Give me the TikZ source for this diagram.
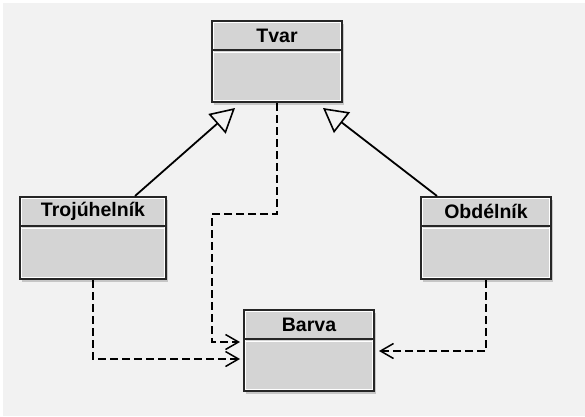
\documentclass[tikz,border=0pt]{standalone}
\usepackage{fontspec}
\setmainfont{Liberation Sans}
\usetikzlibrary{arrows.meta,calc,shadows}
\definecolor{bgc}{RGB}{242,242,242}
\definecolor{boxfill}{RGB}{212,212,212}
\definecolor{edgec}{RGB}{38,38,38}
\tikzset{
  umlbox/.style={draw=edgec, line width=2pt, fill=boxfill, inner sep=0pt,
    drop shadow={shadow xshift=2pt, shadow yshift=-3pt, fill=black, opacity=0.18}},
  umltitle/.style={font=\fontsize{19.5}{22}\selectfont\bfseries, text=black, inner sep=0pt},
  gen/.style={draw=black, line width=1.8pt, -{Triangle[open, length=24pt, width=26pt, line width=1.6pt]}},
  dep/.style={draw=black, line width=1.6pt, dash pattern=on 8pt off 4pt,
    -{Straight Barb[length=13pt, width=15pt, line width=1.5pt]}},
}
\begin{document}
\begin{tikzpicture}[x=1pt, y=1pt]
\useasboundingbox (0,0) rectangle (585,-416);
\fill[white] (0,0) rectangle (585,-416);
\fill[bgc] (3,-3) rectangle (585,-416);
% boxes
\node[umlbox, minimum width=130pt, minimum height=81pt] (tvar) at (277,-61.5) {};
\node[umlbox, minimum width=146pt, minimum height=82pt] (troj) at (93,-238) {};
\node[umlbox, minimum width=130pt, minimum height=82pt] (obd) at (486,-238) {};
\node[umlbox, minimum width=130pt, minimum height=81pt] (barva) at (309,-350.5) {};
\foreach \n in {tvar,troj,obd,barva} {
  \draw[white, line width=1pt] ($(\n.north west)+(2.8,-2.8)$) rectangle ($(\n.south east)+(-2.8,2.8)$);
  \draw[edgec, line width=2pt] ($(\n.north west)+(0,-30)$) -- ($(\n.north east)+(0,-30)$);
  \draw[white, line width=1pt] ($(\n.north west)+(2.8,-32.8)$) -- ($(\n.north east)+(-2.8,-32.8)$);
}
\node[umltitle] (tvar-t) at ($(tvar.north)+(0,-15.5)$) {Tvar};
\node[umltitle] (troj-t) at ($(troj.north)+(0,-15.5)$) {Trojúhelník};
\node[umltitle] (obd-t) at ($(obd.north)+(0,-15.5)$) {Obdélník};
\node[umltitle] (barva-t) at ($(barva.north)+(0,-15.5)$) {Barva};
% generalizations
\draw[gen] ($(troj.north west)+(116,0)$) -- ($(tvar.south west)+(24,-5)$);
\draw[gen] ($(obd.north west)+(17,0)$) -- ($(tvar.south west)+(112,-5)$);
% dependencies
\draw[dep] (tvar.south) -- ++(0,-111) -| ($(barva.west)+(-31,8.5)$) -- ($(barva.west)+(-3,8.5)$);
\draw[dep] (troj.south) |- ($(barva.west)+(-3,-8.5)$);
\draw[dep] (obd.south) |- ($(barva.east)+(4,-0.5)$);
\end{tikzpicture}
\end{document}
